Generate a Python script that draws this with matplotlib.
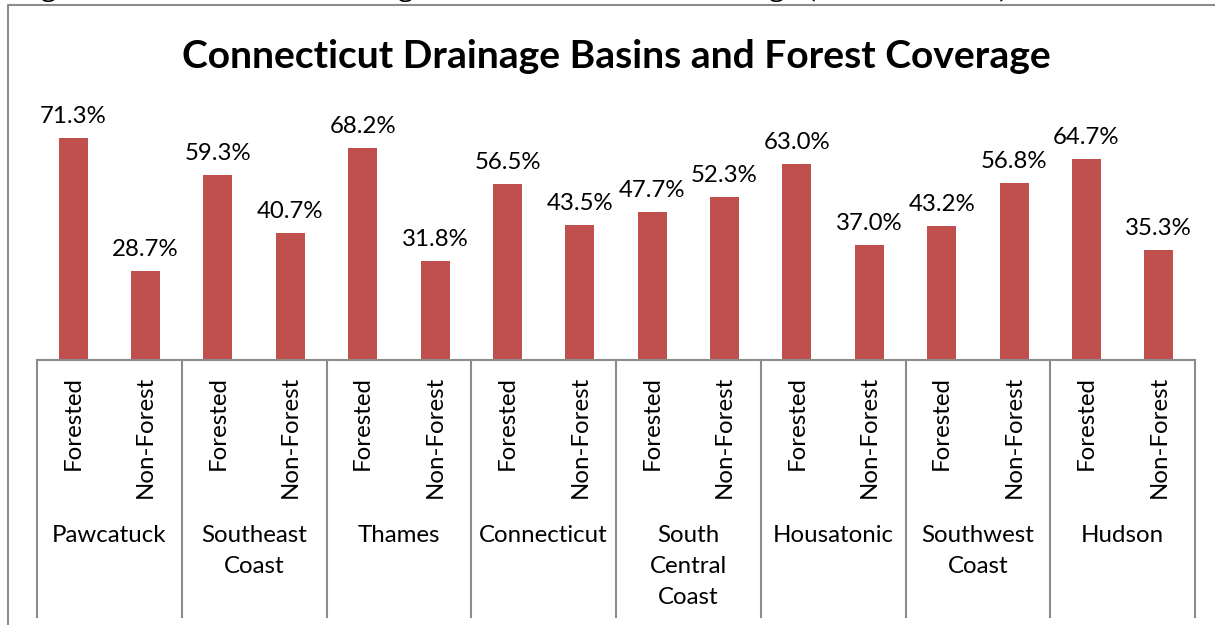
import matplotlib
matplotlib.use("Agg")
import matplotlib.pyplot as plt
from matplotlib.lines import Line2D

basins = ["Pawcatuck", "Southeast\nCoast", "Thames", "Connecticut",
          "South\nCentral\nCoast", "Housatonic", "Southwest\nCoast", "Hudson"]
cover_types = ["Forested", "Non-Forest"]
forested = [71.3, 59.3, 68.2, 56.5, 47.7, 63.0, 43.2, 64.7]
non_forest = [28.7, 40.7, 31.8, 43.5, 52.3, 37.0, 56.8, 35.3]

title = "Connecticut Drainage Basins and Forest Coverage"
caption = "Figure 4: Connecticut Drainage Basins and Forest Coverage (CT DEP, 2009)"

BAR = "#C0504D"
GRID = "#8C8C8C"
FONT = "Lato"
FS = 17.3

W, H = 1215, 625
fig = plt.figure(figsize=(W / 100, H / 100), dpi=100)
fig.patch.set_facecolor("white")

# frame around chart (cropped on right and bottom)
fig.add_artist(Line2D([8 / W, 8 / W, 1.0], [0.0, 1 - 5 / H, 1 - 5 / H],
                      transform=fig.transFigure, color=GRID, lw=1.5))

# caption cut off at the top
fig.text(14 / W, 1 + 4.5 / H, caption, family="Liberation Serif", weight="bold",
         fontsize=22, ha="left", va="baseline", color="black")

fig.text(616 / W, 1 - 56 / H, title, family=FONT, weight="bold", fontsize=28.1,
         ha="center", va="center", color="black")

base_px, top_px = 360, 111
ax = fig.add_axes([37 / W, (H - base_px) / H, (1195 - 37) / W, (base_px - top_px) / H])
ax.set_xlim(0, 2 * len(basins))
ax.set_ylim(0, 80)
for s in ["top", "left", "right"]:
    ax.spines[s].set_visible(False)
ax.spines["bottom"].set_color(GRID)
ax.spines["bottom"].set_linewidth(1.5)
ax.set_xticks([])
ax.set_yticks([])
ax.patch.set_alpha(0)

values = []
for f, n in zip(forested, non_forest):
    values += [f, n]
xs = [i + 0.5 for i in range(len(values))]
ax.bar(xs, values, width=0.4, color=BAR, zorder=2)

for x, v in zip(xs, values):
    ax.annotate(f"{v:.1f}%", (x, v), xytext=(0, 11), textcoords="offset pixels",
                ha="center", va="bottom", family=FONT, fontsize=FS, color="black")

def ay(px):
    return (base_px - px) / (base_px - top_px)

tr = ax.get_xaxis_transform()
for b in range(len(basins) + 1):
    ax.plot([2 * b, 2 * b], [0, ay(617)], transform=tr, color=GRID, lw=1.5,
            clip_on=False)

for i, x in enumerate(xs):
    ax.text(x, ay(376), cover_types[i % 2], rotation=90, ha="center", va="top",
            transform=tr, family=FONT, fontsize=FS, color="black")

for b, name in enumerate(basins):
    ax.text(2 * b + 1, ay(525), name, ha="center", va="top", transform=tr,
            family=FONT, fontsize=FS, color="black", linespacing=1.6)

fig.savefig("out.png", dpi=100)
